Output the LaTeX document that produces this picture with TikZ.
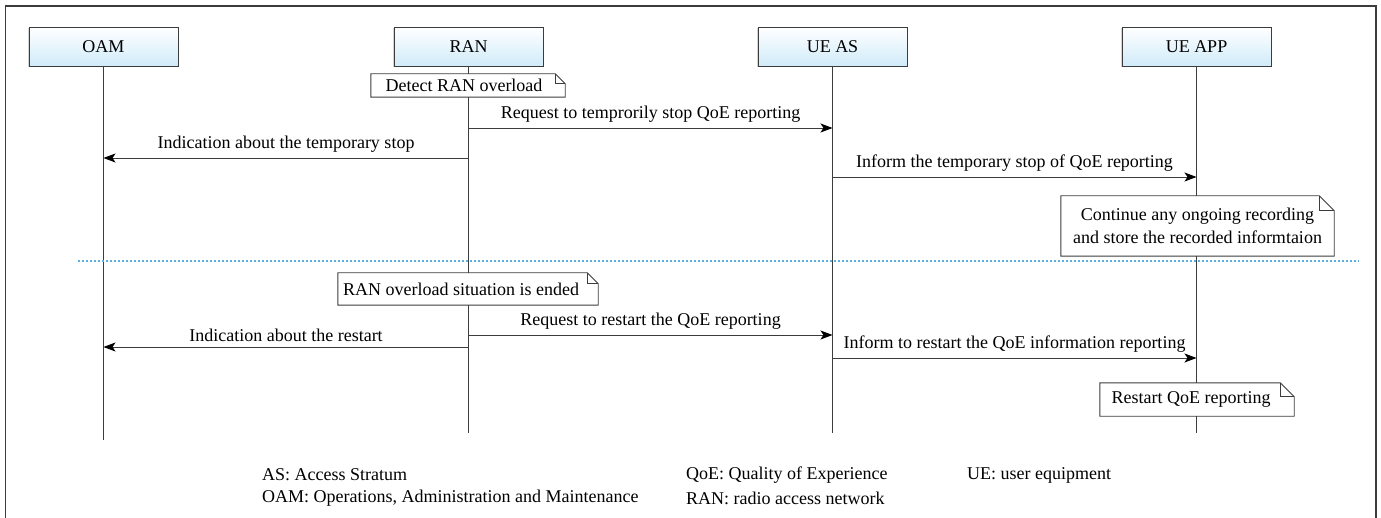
\documentclass[tikz,border=0pt]{standalone}
\usepackage{fontspec}
\setmainfont{Liberation Serif}
\newfontfamily\diagfont{Liberation Serif}
\usetikzlibrary{arrows.meta,shadows}
\definecolor{headblue}{RGB}{208,235,249}
\definecolor{inkgray}{RGB}{60,60,60}
\definecolor{sepblue}{RGB}{90,176,222}
\begin{document}
\begin{tikzpicture}[x=1pt,y=-1pt,
  every node/.style={font=\diagfont\fontsize{18}{23}\selectfont, text=black},
  head/.style={rectangle, draw=inkgray, line width=0.9pt, top color=white, bottom color=headblue,
    minimum width=149pt, minimum height=39pt, inner sep=0pt,
    drop shadow={shadow xshift=-1.5pt, shadow yshift=-1.5pt, opacity=0.35}},
  lifeline/.style={draw=inkgray, line width=0.9pt},
  msg/.style={draw=inkgray, line width=0.9pt, -{Stealth[length=12pt,width=9pt,inset=3pt,color=black]}},
  msglabel/.style={above=1.5pt, midway},
  notebox/.style={rectangle, fill=white, inner sep=0pt, align=center},
  noteline/.style={draw=inkgray, line width=0.9pt},
  sep/.style={draw=sepblue, line width=1.6pt, dash pattern=on 2pt off 2pt},
  legend/.style={anchor=west, inner sep=0pt}]
\newcommand\notefold[2]{%
  \draw[noteline] (#1.north west) -- ([xshift=-#2]#1.north east) -- ([yshift=-#2]#1.north east)
    -- (#1.south east) -- (#1.south west) -- cycle;
  \draw[noteline] ([xshift=-#2]#1.north east) |- ([yshift=-#2]#1.north east);}
\useasboundingbox (0,0) rectangle (1381,518);

% outer frame, open at the bottom
\draw[draw=inkgray, line width=1.2pt] (5.5,518) -- (5.5,6) -- (1376,6) -- (1376,518);

% participants
\node[head] (oam)   at (103.5,46.5) {OAM};
\node[head] (ran)   at (468.5,46.5) {RAN};
\node[head] (ueas)  at (832.5,46.5) {UE AS};
\node[head] (ueapp) at (1196.5,46.5) {UE APP};

% lifeline ends
\coordinate (oamEnd)   at (103.5,440);
\coordinate (ranEnd)   at (468.5,433);
\coordinate (ueasEnd)  at (832.5,433);
\coordinate (ueappEnd) at (1196.5,433);

\draw[lifeline] (oam.south) -- (oamEnd);
\draw[lifeline] (ran.south) -- (ranEnd);
\draw[lifeline] (ueas.south) -- (ueasEnd);
\draw[lifeline] (ueapp.south) -- (ueappEnd);

% message end points on the lifelines
\coordinate (r1) at (468.5,128);   \coordinate (a1) at (832.5,128);
\coordinate (r2) at (468.5,158);   \coordinate (o2) at (103.5,158);
\coordinate (a3) at (832.5,177);   \coordinate (p3) at (1196.5,177);
\coordinate (r4) at (468.5,335);   \coordinate (a4) at (832.5,335);
\coordinate (r5) at (468.5,347);   \coordinate (o5) at (103.5,347);
\coordinate (a6) at (832.5,358);   \coordinate (p6) at (1196.5,358);

% notes
\node[notebox, minimum width=194pt, minimum height=23pt] (detect) at (468,85.5) {Detect RAN overload\hspace*{8pt}};
\notefold{detect}{10pt}
\node[notebox, minimum width=273pt, minimum height=60pt] (keep) at (1197.5,226) {Continue any ongoing recording\\and store the recorded informtaion};
\notefold{keep}{15pt}

% separator
\draw[sep] (78,261) -- (1359,261);

\node[notebox, minimum width=260pt, minimum height=32pt] (ended) at (468,289) {RAN overload situation is ended\hspace*{14pt}};
\notefold{ended}{11pt}
\node[notebox, minimum width=194pt, minimum height=33pt] (restart) at (1197,399.5) {Restart QoE reporting\hspace*{12pt}};
\notefold{restart}{14pt}

% messages
\draw[msg] (r1) -- node[msglabel] {Request to temprorily stop QoE reporting} (a1);
\draw[msg] (r2) -- node[msglabel] {Indication about the temporary stop} (o2);
\draw[msg] (a3) -- node[msglabel] {Inform the temporary stop of QoE reporting} (p3);
\draw[msg] (r4) -- node[msglabel] {Request to restart the QoE reporting} (a4);
\draw[msg] (r5) -- node[msglabel] {Indication about the restart} (o5);
\draw[msg] (a6) -- node[msglabel] {Inform to restart the QoE information reporting} (p6);

% abbreviations
\node[legend] (kAS)  at (262,475) {AS: Access Stratum};
\node[legend] (kOAM) at (262,498) {OAM: Operations, Administration and Maintenance};
\node[legend] (kQoE) at (686,475) {QoE: Quality of Experience};
\node[legend] (kRAN) at (686,498) {RAN: radio access network};
\node[legend] (kUE)  at (967,475) {UE: user equipment};
\end{tikzpicture}
\end{document}
